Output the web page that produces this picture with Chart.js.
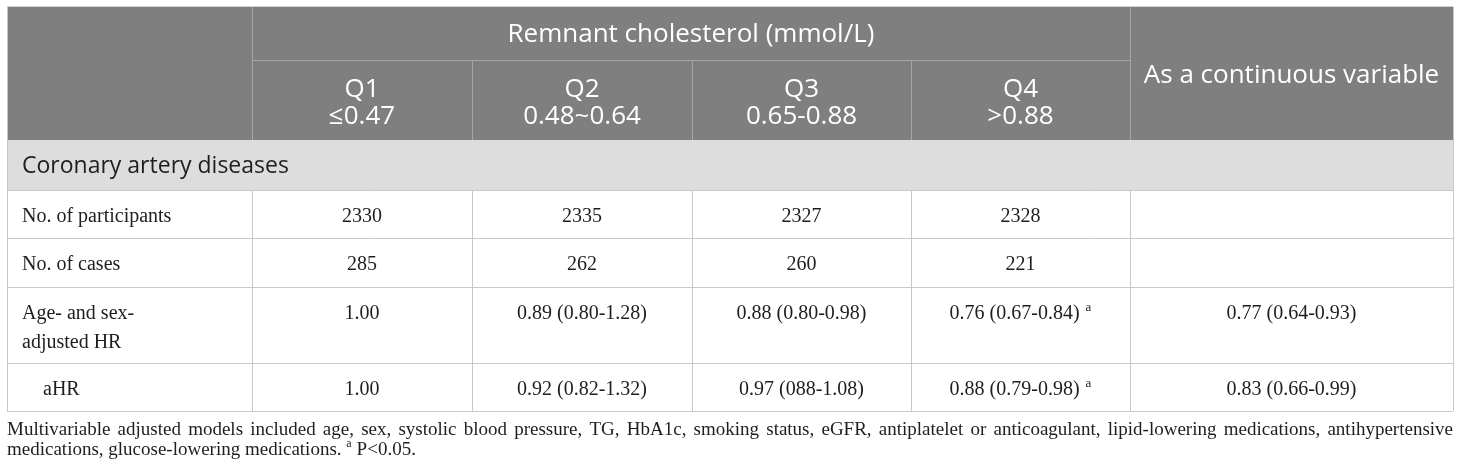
<!DOCTYPE html>
<html>
<head>
<meta charset="utf-8">
<script src="https://cdn.jsdelivr.net/npm/chart.js@4.4.1/dist/chart.umd.min.js"></script>
<style>
  html, body { margin: 0; padding: 0; background: #fff; }
  #wrap { width: 1460px; height: 473px; }
</style>
</head>
<body>
<div id="wrap"><canvas id="tbl" width="1460" height="473"></canvas></div>
<script>
// table content
const groupTitle = "Remnant cholesterol (mmol/L)";
const quartiles = ["Q1", "Q2", "Q3", "Q4"];
const cutoffs = ["≤0.47", "0.48~0.64", "0.65-0.88", ">0.88"];
const continuousLabel = "As a continuous variable";
const sectionLabel = "Coronary artery diseases";
const rowLabels = ["No. of participants", "No. of cases", "Age- and sex-\nadjusted HR", "aHR"];
const participants = ["2330", "2335", "2327", "2328", ""];
const cases = ["285", "262", "260", "221", ""];
const ageSexHR = ["1.00", "0.89 (0.80-1.28)", "0.88 (0.80-0.98)", "0.76 (0.67-0.84)", "0.77 (0.64-0.93)"];
const adjHR = ["1.00", "0.92 (0.82-1.32)", "0.97 (088-1.08)", "0.88 (0.79-0.98)", "0.83 (0.66-0.99)"];
const ageSexSig = [false, false, false, true, false];
const adjSig = [false, false, false, true, false];
const footnote = "Multivariable adjusted models included age, sex, systolic blood pressure, TG, HbA1c, smoking status, eGFR, antiplatelet or anticoagulant, lipid-lowering medications, antihypertensive medications, glucose-lowering medications.";
const sigMark = "a";
const sigText = "P<0.05.";

// layout (scale units)
const colEdges = [7, 252, 472, 692, 911, 1130, 1453];
const rowEdges = [7, 60, 140, 190, 238, 287, 363, 411];
const rowIndent = [0, 0, 0, 21];

const headFont = "26px 'Open Sans'";
const sectionFont = "23px 'Open Sans'";
const bodyFont = "20px 'Liberation Serif'";
const supFont = "13px 'Liberation Serif'";
const noteFont = "19px 'Liberation Serif'";
const noteSupFont = "12px 'Liberation Serif'";

const headBg = "#7f7f7f";
const headLine = "#a6a6a6";
const sectionBg = "#dddddd";
const gridLine = "#c9c9c9";
const textDark = "#1f1d1e";

const bodyRows = [
  { values: participants, sig: [] },
  { values: cases, sig: [] },
  { values: ageSexHR, sig: ageSexSig },
  { values: adjHR, sig: adjSig },
];

const tablePlugin = {
  id: "tablePlugin",
  afterDraw(chart) {
    const ctx = chart.ctx;
    const px = (v) => chart.scales.x.getPixelForValue(v);
    const py = (v) => chart.scales.y.getPixelForValue(v);

    function box(x0, x1, y0, y1, color) {
      ctx.fillStyle = color;
      ctx.fillRect(px(x0), py(y0), px(x1) - px(x0), py(y1) - py(y0));
    }
    function hLine(x0, x1, y, color) {
      ctx.strokeStyle = color;
      ctx.lineWidth = 1;
      ctx.beginPath();
      ctx.moveTo(px(x0), Math.round(py(y)) + 0.5);
      ctx.lineTo(px(x1), Math.round(py(y)) + 0.5);
      ctx.stroke();
    }
    function vLine(x, y0, y1, color) {
      ctx.strokeStyle = color;
      ctx.lineWidth = 1;
      ctx.beginPath();
      ctx.moveTo(Math.round(px(x)) + 0.5, py(y0));
      ctx.lineTo(Math.round(px(x)) + 0.5, py(y1));
      ctx.stroke();
    }
    function centerText(str, x0, x1, baseY, font, color) {
      ctx.font = font;
      ctx.fillStyle = color;
      ctx.textAlign = "center";
      ctx.textBaseline = "alphabetic";
      ctx.fillText(str, (px(x0) + px(x1)) / 2, py(baseY));
    }
    function markedText(str, mark, x0, x1, baseY) {
      ctx.textAlign = "left";
      ctx.textBaseline = "alphabetic";
      ctx.fillStyle = textDark;
      ctx.font = bodyFont;
      const w = ctx.measureText(str).width;
      let total = w;
      const gap = 6;
      if (mark) {
        ctx.font = supFont;
        total += gap + ctx.measureText(sigMark).width;
      }
      const x = (px(x0) + px(x1)) / 2 - total / 2;
      ctx.font = bodyFont;
      ctx.fillText(str, x, py(baseY));
      if (mark) {
        ctx.font = supFont;
        ctx.fillText(sigMark, x + w + gap, py(baseY) - 8);
      }
    }

    const L = colEdges[0], R = colEdges[colEdges.length - 1];
    const qEdges = colEdges.slice(1, 6);

    // header block
    box(L, R, rowEdges[0], rowEdges[2], headBg);
    hLine(L, R, rowEdges[0] - 1, "#d0d0d0");
    hLine(qEdges[0], qEdges[4], rowEdges[1], headLine);
    vLine(colEdges[1], rowEdges[0], rowEdges[2], headLine);
    vLine(colEdges[5], rowEdges[0], rowEdges[2], headLine);
    for (let i = 2; i < 5; i++) vLine(colEdges[i], rowEdges[1], rowEdges[2], headLine);

    centerText(groupTitle, colEdges[1], colEdges[5], rowEdges[0] + 35, headFont, "#ffffff");
    quartiles.forEach((q, i) => {
      centerText(q, colEdges[i + 1], colEdges[i + 2], rowEdges[1] + 37, headFont, "#ffffff");
      centerText(cutoffs[i], colEdges[i + 1], colEdges[i + 2], rowEdges[1] + 64, headFont, "#ffffff");
    });
    centerText(continuousLabel, colEdges[5], colEdges[6], rowEdges[0] + 76, headFont, "#ffffff");

    // section row
    box(L, R, rowEdges[2], rowEdges[3], sectionBg);
    ctx.font = sectionFont;
    ctx.fillStyle = textDark;
    ctx.textAlign = "left";
    ctx.textBaseline = "alphabetic";
    ctx.fillText(sectionLabel, px(L + 15), py(rowEdges[2] + 33));

    // body rows
    bodyRows.forEach((row, r) => {
      const top = rowEdges[r + 3];
      const lines = rowLabels[r].split("\n");
      ctx.font = bodyFont;
      ctx.fillStyle = textDark;
      ctx.textAlign = "left";
      lines.forEach((ln, k) => {
        ctx.fillText(ln, px(L + 15 + rowIndent[r]), py(top + 32 + k * 29));
      });
      row.values.forEach((v, c) => {
        if (v) markedText(v, row.sig[c], colEdges[c + 1], colEdges[c + 2], top + 32);
      });
    });

    // grid lines of the body
    for (let r = 3; r < rowEdges.length; r++) hLine(L, R, rowEdges[r], gridLine);
    colEdges.forEach((x) => vLine(x, rowEdges[3], rowEdges[rowEdges.length - 1], gridLine));
    vLine(L, rowEdges[0], rowEdges[3], gridLine);
    vLine(R, rowEdges[0], rowEdges[3], gridLine);

    // footnote, justified
    ctx.font = noteFont;
    ctx.fillStyle = textDark;
    ctx.textAlign = "left";
    const maxW = px(R) - px(L);
    const words = footnote.split(" ");
    const lines = [];
    let cur = [];
    words.forEach((w) => {
      const test = cur.concat(w).join(" ");
      if (cur.length && ctx.measureText(test).width > maxW) {
        lines.push(cur);
        cur = [w];
      } else cur.push(w);
    });
    lines.push(cur);
    lines.forEach((ws, i) => {
      const y = py(rowEdges[rowEdges.length - 1] + 24 + i * 20);
      if (i < lines.length - 1) {
        const wordsW = ws.reduce((s, w) => s + ctx.measureText(w).width, 0);
        const gapW = (maxW - wordsW) / (ws.length - 1);
        let x = px(L);
        ws.forEach((w) => {
          ctx.fillText(w, x, y);
          x += ctx.measureText(w).width + gapW;
        });
      } else {
        const txt = ws.join(" ") + " ";
        ctx.fillText(txt, px(L), y);
        let x = px(L) + ctx.measureText(txt).width;
        ctx.font = noteSupFont;
        ctx.fillText(sigMark, x, y - 8);
        x += ctx.measureText(sigMark).width + 5;
        ctx.font = noteFont;
        ctx.fillText(sigText, x, y);
      }
    });
  },
};

const tableChart = new Chart(document.getElementById("tbl"), {
  type: "scatter",
  data: { datasets: [{ data: [], pointRadius: 0 }] },
  options: {
    responsive: false,
    animation: false,
    events: [],
    layout: { padding: 0 },
    plugins: { legend: { display: false }, tooltip: { enabled: false } },
    scales: {
      x: { type: "linear", min: 0, max: 1460, display: false },
      y: { type: "linear", min: 0, max: 473, reverse: true, display: false },
    },
  },
  plugins: [tablePlugin],
});
</script>
</body>
</html>
